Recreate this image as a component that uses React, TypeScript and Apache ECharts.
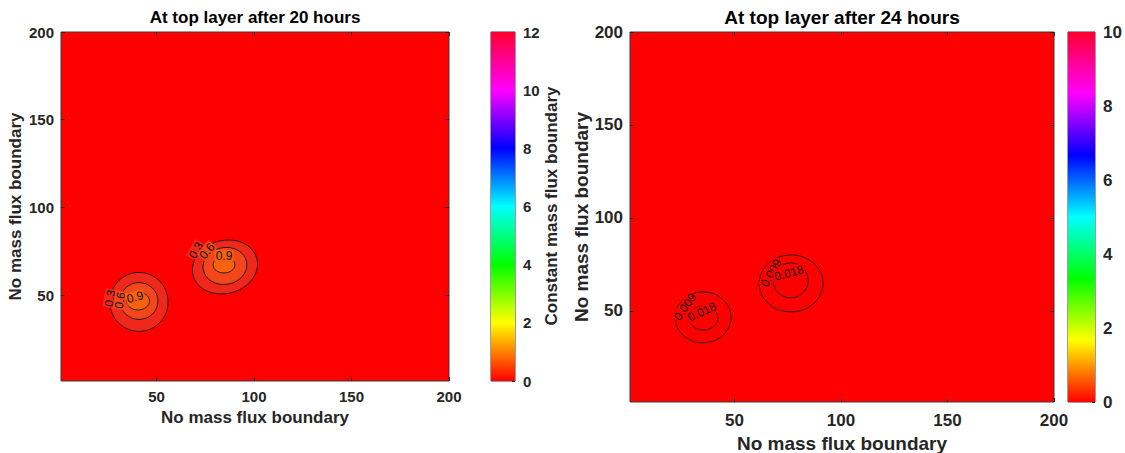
import React, { useEffect, useRef } from 'react';
import * as echarts from 'echarts';

// ---------- data ----------
const titles = ['At top layer after 20 hours', 'At top layer after 24 hours'];
const axisName = 'No mass flux boundary';
const colorbarName = 'Constant mass flux boundary';
const axisMin = 1;
const axisMax = 200;
const axisTicks = [50, 100, 150, 200];
const leftColorbarMax = 12;
const rightColorbarMax = 10;
const colorbarStep = 2;

// contour ellipses: [centerX, centerY, radiusX, radiusY, tiltDeg, levelIndex]
const leftLevels = ['0.3', '0.6', '0.9'];
const leftContours = [
  [41, 46.1, 14.9, 16.8, 0, 0],
  [41, 46.6, 9.7, 10.5, 0, 1],
  [40.5, 46.6, 5.9, 5.1, 0, 2],
  [85.1, 66.0, 16.9, 15.1, 15, 0],
  [85.1, 66.6, 11.3, 10.5, 10, 1],
  [84.6, 67.2, 5.6, 4.6, 0, 2],
];
// contour labels: [x, y, levelIndex, angleDeg]
const leftLabels = [
  [26.1, 48.2, 0, 80],
  [31.3, 47.0, 1, 80],
  [39.0, 48.8, 2, 15],
  [70.2, 75.6, 0, 60],
  [75.9, 75.1, 1, 50],
  [84.6, 72.2, 2, 0],
];

const rightLevels = ['0.009', '0.018'];
const rightContours = [
  [35.3, 46.5, 13.1, 13.7, 0, 0],
  [35.5, 46.2, 6.8, 6.5, 0, 1],
  [76.6, 64.8, 15.0, 15.3, 0, 0],
  [76.4, 66.4, 8.2, 9.4, 0, 1],
];
const rightLabels = [
  [26.8, 52.2, 0, 55],
  [34.8, 49.5, 1, 25],
  [67.2, 70.4, 0, 60],
  [75.6, 70.4, 1, 15],
];

// ---------- styles ----------
const FONT = '"Liberation Sans", Arial, Helvetica, sans-serif';
const TXT = '#262626';
const leftFills = ['#f0281c', '#f3461a', '#f8620f'];
const hsvStops = [
  { offset: 0, color: '#ff0000' },
  { offset: 1 / 6, color: '#ffff00' },
  { offset: 2 / 6, color: '#00ff00' },
  { offset: 3 / 6, color: '#00ffff' },
  { offset: 4 / 6, color: '#0000ff' },
  { offset: 5 / 6, color: '#ff00ff' },
  { offset: 1, color: '#ff0030' },
];

function contourRender(fills: string[] | null) {
  return (params: any, api: any) => {
    const c = api.coord([api.value(0), api.value(1)]);
    const s = api.size([api.value(2), api.value(3)]);
    const lvl = api.value(5);
    return {
      type: 'ellipse',
      x: c[0],
      y: c[1],
      rotation: (api.value(4) * Math.PI) / 180,
      shape: { cx: 0, cy: 0, rx: s[0], ry: s[1] },
      style: { fill: fills ? fills[lvl] : 'none', stroke: '#1a1a1a', lineWidth: 0.9 },
    };
  };
}

function labelRender(labels: number[][], levels: string[], bgs: string[], fontSize: number) {
  return (params: any, api: any) => {
    const c = api.coord([api.value(0), api.value(1)]);
    const l = labels[params.dataIndex];
    return {
      type: 'text',
      x: c[0],
      y: c[1],
      rotation: (l[3] * Math.PI) / 180,
      style: {
        text: levels[l[2]],
        fill: '#111',
        fontSize,
        fontFamily: FONT,
        align: 'center',
        verticalAlign: 'middle',
        backgroundColor: bgs[l[2]],
        padding: [0, 1],
      },
    };
  };
}

function tickStyle() {
  return { show: true, inside: true, length: 4, customValues: axisTicks, lineStyle: { color: TXT } };
}

function mainX(grid: number, fs: number, nameFs: number, gap: number, margin: number) {
  return [
    {
      type: 'value', gridIndex: grid, min: axisMin, max: axisMax,
      axisLine: { show: false },
      axisTick: tickStyle(),
      splitLine: { show: false },
      axisLabel: { customValues: axisTicks, color: TXT, fontSize: fs, fontWeight: 'bold', fontFamily: FONT, margin },
      name: axisName, nameLocation: 'middle', nameGap: gap,
      nameTextStyle: { color: TXT, fontSize: nameFs, fontWeight: 'bold', fontFamily: FONT },
    },
    {
      type: 'value', gridIndex: grid, position: 'top', min: axisMin, max: axisMax,
      axisLine: { show: false },
      axisTick: tickStyle(),
      splitLine: { show: false }, axisLabel: { show: false },
    },
  ];
}

function mainY(grid: number, fs: number, nameFs: number, gap: number, margin: number) {
  return [
    {
      type: 'value', gridIndex: grid, min: axisMin, max: axisMax,
      axisLine: { show: false },
      axisTick: tickStyle(),
      splitLine: { show: false },
      axisLabel: { customValues: axisTicks, color: TXT, fontSize: fs, fontWeight: 'bold', fontFamily: FONT, margin },
      name: axisName, nameLocation: 'middle', nameGap: gap, nameRotate: 90,
      nameTextStyle: { color: TXT, fontSize: nameFs, fontWeight: 'bold', fontFamily: FONT },
    },
    {
      type: 'value', gridIndex: grid, position: 'right', min: axisMin, max: axisMax,
      axisLine: { show: false },
      axisTick: tickStyle(),
      splitLine: { show: false }, axisLabel: { show: false },
    },
  ];
}

function cbX(grid: number) {
  return {
    type: 'category', gridIndex: grid, data: ['cb'],
    axisLine: { show: false }, axisTick: { show: false }, axisLabel: { show: false },
  };
}

function cbY(grid: number, max: number, fs: number) {
  return {
    type: 'value', gridIndex: grid, position: 'right', min: 0, max, interval: colorbarStep,
    axisLine: { show: false },
    axisTick: { show: true, inside: true, length: 3, lineStyle: { color: TXT } },
    splitLine: { show: false },
    axisLabel: { color: TXT, fontSize: fs, fontWeight: 'bold', fontFamily: FONT, margin: 8 },
  };
}

export default function App() {
  const ref = useRef<HTMLDivElement>(null);
  useEffect(() => {
    if (!ref.current) return;
    const chart = echarts.init(ref.current, undefined, { renderer: 'svg' });
    const gridBase = {
      show: true, backgroundColor: '#ff0000', borderColor: '#3a3a3a', borderWidth: 1,
      containLabel: false, outerBoundsMode: 'none',
    };
    const option: any = {
      animation: false,
      backgroundColor: '#ffffff',
      grid: [
        { ...gridBase, left: 61, top: 32, width: 388, height: 349 },
        { ...gridBase, backgroundColor: 'transparent', left: 491, top: 32, width: 24, height: 349 },
        { ...gridBase, left: 630, top: 32, width: 424, height: 370 },
        { ...gridBase, backgroundColor: 'transparent', left: 1068, top: 32, width: 27, height: 370 },
      ],
      xAxis: [
        ...mainX(0, 15, 17, 28, 8),
        cbX(1),
        ...mainX(2, 17, 19, 22, 10),
        cbX(3),
      ],
      yAxis: [
        ...mainY(0, 15, 17, 37, 7),
        cbY(1, leftColorbarMax, 15),
        ...mainY(2, 17, 19, 36, 7),
        cbY(3, rightColorbarMax, 17),
      ],
      series: [
        {
          type: 'custom', xAxisIndex: 0, yAxisIndex: 0, data: leftContours,
          renderItem: contourRender(leftFills), silent: true,
        },
        {
          type: 'custom', xAxisIndex: 0, yAxisIndex: 0, data: leftLabels,
          renderItem: labelRender(leftLabels, leftLevels, leftFills, 12), silent: true,
        },
        {
          type: 'bar', xAxisIndex: 2, yAxisIndex: 2, data: [leftColorbarMax], barWidth: '100%',
          itemStyle: { color: new echarts.graphic.LinearGradient(0, 1, 0, 0, hsvStops) }, silent: true,
        },
        {
          type: 'custom', xAxisIndex: 3, yAxisIndex: 3, data: rightContours,
          renderItem: contourRender(null), silent: true,
        },
        {
          type: 'custom', xAxisIndex: 3, yAxisIndex: 3, data: rightLabels,
          renderItem: labelRender(rightLabels, rightLevels, ['#ff0000', '#ff0000'], 12), silent: true,
        },
        {
          type: 'bar', xAxisIndex: 5, yAxisIndex: 5, data: [rightColorbarMax], barWidth: '100%',
          itemStyle: { color: new echarts.graphic.LinearGradient(0, 1, 0, 0, hsvStops) }, silent: true,
        },
      ],
      graphic: [
        {
          type: 'text', x: 255, y: 17,
          style: { text: titles[0], fill: '#000', fontSize: 17, fontWeight: 'bold', fontFamily: FONT, align: 'center', verticalAlign: 'middle' },
        },
        {
          type: 'text', x: 842, y: 17,
          style: { text: titles[1], fill: '#000', fontSize: 19, fontWeight: 'bold', fontFamily: FONT, align: 'center', verticalAlign: 'middle' },
        },
        {
          type: 'text', x: 551, y: 206, rotation: Math.PI / 2,
          style: { text: colorbarName, fill: TXT, fontSize: 17, fontWeight: 'bold', fontFamily: FONT, align: 'center', verticalAlign: 'middle' },
        },
      ],
    };
    chart.setOption(option);
    return () => chart.dispose();
  }, []);
  return (
    <div
      ref={ref}
      style={{ position: 'absolute', left: 0, top: 0, width: 1125, height: 453 }}
    />
  );
}
